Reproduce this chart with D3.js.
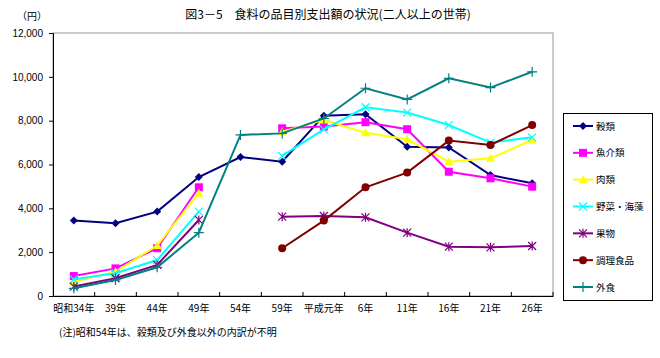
<!DOCTYPE html>
<html><head><meta charset="utf-8">
<script src="https://cdn.jsdelivr.net/npm/d3@7"></script>
<style>body{margin:0;background:#fff}svg{display:block}text{font-family:"Noto Sans CJK JP","Noto Sans",sans-serif;fill:#000}</style>
</head><body><svg id="c" width="660" height="358"></svg>
<script>
const categories = ["昭和34年","39年","44年","49年","54年","59年","平成元年","6年","11年","16年","21年","26年"];
const yTicks = [0,2000,4000,6000,8000,10000,12000];
const seriesNames = ["穀類","魚介類","肉類","野菜・海藻","果物","調理食品","外食"];
const grain    = [3440,3320,3850,5430,6340,6130,8230,8290,6810,6780,5520,5140];
const fish     = [910,1260,2180,4960,null,7650,7730,7930,7610,5670,5370,4990];
const meat     = [650,1110,2300,4690,null,7500,8030,7450,7150,6130,6280,7120];
const veg      = [760,1040,1640,3850,null,6390,7600,8610,8370,7800,7000,7240];
const fruit    = [430,810,1420,3470,null,3620,3650,3590,2890,2250,2220,2280];
const cooked   = [null,null,null,null,null,2180,3440,4960,5630,7090,6890,7800];
const eatingOut= [350,730,1310,2890,7350,7420,8100,9480,8970,9930,9510,10230];
const seriesValues = [grain,fish,meat,veg,fruit,cooked,eatingOut];
const colors = ["#000080","#FF00FF","#FFFF00","#00FFFF","#800080","#800000","#008080"];
const markers = ["diamond","square","triangle","x","asterisk","circle","plus"];

const svg = d3.select("#c");
const L=53,R=553,T=33,B=296;
const x = d3.scaleBand().domain(categories).range([L,R]);
const y = d3.scaleLinear().domain([0,12000]).range([B,T]);

svg.append("text").attr("x",328).attr("y",19).attr("text-anchor","middle").style("font-size","12px").text("図3－5　食料の品目別支出額の状況(二人以上の世帯)");
svg.append("text").attr("x",32).attr("y",20).attr("text-anchor","middle").style("font-size","10px").text("（円）");

// plot border
svg.append("rect").attr("x",L).attr("y",T).attr("width",R-L).attr("height",B-T).attr("fill","none").attr("stroke","#999").attr("stroke-width",1);

const ya = svg.append("g").attr("transform",`translate(${L},0)`).call(d3.axisLeft(y).tickValues(yTicks).tickSize(4).tickPadding(6).tickFormat(d3.format(",")));
ya.select(".domain").attr("stroke","#000");
ya.selectAll("text").style("font-size","10px").style("font-family","'Liberation Sans',Arial,sans-serif");

const xa = svg.append("g").attr("transform",`translate(0,${B})`).call(d3.axisBottom(x).tickSize(0).tickPadding(9));
xa.select(".domain").attr("stroke","#000");
xa.selectAll("text").style("font-size","10px");
// boundary ticks
const bounds = categories.map(c=>x(c)).slice(1).concat([R]);
svg.append("g").selectAll("line").data(bounds).join("line")
  .attr("x1",d=>d).attr("x2",d=>d).attr("y1",B).attr("y2",B-4).attr("stroke","#000");

function drawMarker(g,type,cx,cy,color){
  const s=4;
  if(type==="diamond") g.append("path").attr("d",`M${cx},${cy-s}L${cx+s},${cy}L${cx},${cy+s}L${cx-s},${cy}Z`).attr("fill",color);
  else if(type==="square") g.append("rect").attr("x",cx-4).attr("y",cy-4).attr("width",8).attr("height",8).attr("fill",color);
  else if(type==="triangle") g.append("path").attr("d",`M${cx},${cy-4.5}L${cx+4.5},${cy+3.5}L${cx-4.5},${cy+3.5}Z`).attr("fill",color);
  else if(type==="circle") g.append("circle").attr("cx",cx).attr("cy",cy).attr("r",4).attr("fill",color);
  else if(type==="x") g.append("path").attr("d",`M${cx-4},${cy-4}L${cx+4},${cy+4}M${cx-4},${cy+4}L${cx+4},${cy-4}`).attr("stroke",color).attr("stroke-width",1.2);
  else if(type==="asterisk") g.append("path").attr("d",`M${cx-4},${cy-4}L${cx+4},${cy+4}M${cx-4},${cy+4}L${cx+4},${cy-4}M${cx},${cy-4.5}L${cx},${cy+4.5}`).attr("stroke",color).attr("stroke-width",1.2);
  else if(type==="plus") g.append("path").attr("d",`M${cx-5},${cy}L${cx+5},${cy}M${cx},${cy-5}L${cx},${cy+5}`).attr("stroke",color).attr("stroke-width",1.2);
}

const cx = c => x(c)+x.bandwidth()/2;
const line = d3.line().defined(d=>d.v!=null).x(d=>cx(d.c)).y(d=>y(d.v));
seriesValues.forEach((vals,i)=>{
  const data = categories.map((c,j)=>({c,v:vals[j]}));
  const g = svg.append("g");
  g.append("path").attr("d",line(data)).attr("fill","none").attr("stroke",colors[i]).attr("stroke-width",2);
  data.filter(d=>d.v!=null).forEach(d=>drawMarker(g,markers[i],cx(d.c),y(d.v),colors[i]));
});

// legend
svg.append("rect").attr("x",563.5).attr("y",113.5).attr("width",89).attr("height",187).attr("fill","#fff").attr("stroke","#000").attr("stroke-width",1);
const ly = d3.scalePoint().domain(seriesNames).range([126,287]);
seriesNames.forEach((n,i)=>{
  const g = svg.append("g");
  const yy = ly(n);
  g.append("line").attr("x1",573).attr("x2",593).attr("y1",yy).attr("y2",yy).attr("stroke",colors[i]).attr("stroke-width",2);
  drawMarker(g,markers[i],583,yy,colors[i]);
  g.append("text").attr("x",596).attr("y",yy+3.5).style("font-size","9.5px").text(n);
});

svg.append("text").attr("x",59).attr("y",336).style("font-size","10px").text("(注)昭和54年は、穀類及び外食以外の内訳が不明");
</script></body></html>
